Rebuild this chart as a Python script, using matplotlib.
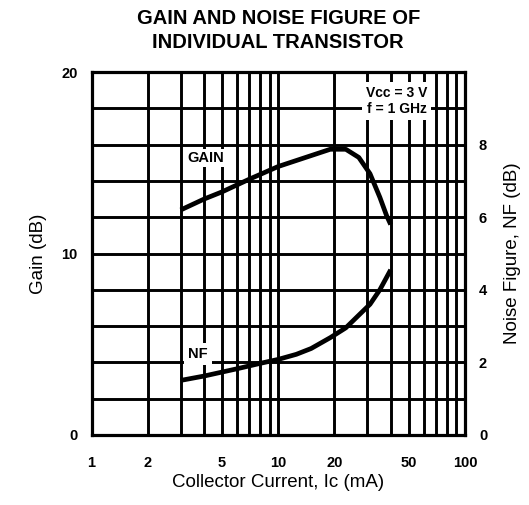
import matplotlib
matplotlib.use("Agg")
import matplotlib.pyplot as plt

plt.rcParams['font.family'] = ['Liberation Sans', 'DejaVu Sans']

# Data
gain_current = [3, 4, 5, 7, 10, 15, 19, 23, 27, 31, 35, 38, 40]
gain_db = [12.4, 13.0, 13.4, 14.1, 14.8, 15.4, 15.75, 15.75, 15.3, 14.4, 13.1, 12.1, 11.6]

nf_current = [3, 4, 6, 8, 10, 12.5, 15, 19, 23, 27, 31, 35, 40]
nf_db = [1.5, 1.62, 1.82, 1.97, 2.08, 2.22, 2.38, 2.68, 2.95, 3.3, 3.6, 4.0, 4.55]

x_ticks = [1, 2, 5, 10, 20, 50, 100]
x_minor = [3, 4, 6, 7, 8, 9, 30, 40, 60, 70, 80, 90]
gain_ticks = [0, 10, 20]
gain_grid = [2, 4, 6, 8, 12, 14, 16, 18]
nf_ticks = [0, 2, 4, 6, 8]

fig = plt.figure(figsize=(5.29, 5.05), dpi=100)
ax = fig.add_axes([0.173, 0.139, 0.706, 0.718])

ax.set_xscale('log')
ax.set_xlim(1, 100)
ax.set_ylim(0, 20)
ax.set_xticks(x_ticks)
ax.set_xticklabels([str(t) for t in x_ticks], fontweight='bold', fontsize=10.5)
ax.set_xticks(x_minor, minor=True)
ax.set_yticks(gain_ticks)
ax.set_yticklabels([str(t) for t in gain_ticks], fontweight='bold', fontsize=10.5)
ax.set_yticks(gain_grid, minor=True)
ax.tick_params(which='both', length=0)
ax.tick_params(axis='x', pad=15)
ax.tick_params(axis='y', pad=10)
ax.grid(True, which='both', color='black', linewidth=2.1)
for s in ax.spines.values():
    s.set_linewidth(2.3)

ax.plot(gain_current, gain_db, color='black', linewidth=3.4, solid_capstyle='butt', zorder=5)

ax2 = ax.twinx()
ax2.set_ylim(0, 10)
ax2.set_yticks(nf_ticks)
ax2.set_yticklabels([str(t) for t in nf_ticks], fontweight='bold', fontsize=10.5)
ax2.tick_params(length=0, pad=10)
ax2.plot(nf_current, nf_db, color='black', linewidth=3.4, solid_capstyle='butt', zorder=5)

ax.text(4.09, 15.26, 'GAIN', fontsize=10.5, fontweight='bold', ha='center', va='center',
        bbox=dict(facecolor='white', edgecolor='none', pad=1.5), zorder=6)
ax2.text(3.72, 2.23, 'NF', fontsize=10.5, fontweight='bold', ha='center', va='center',
         bbox=dict(facecolor='white', edgecolor='none', pad=3), zorder=6)
ax.text(43, 18.4, 'Vcc = 3 V\nf = 1 GHz', fontsize=10, fontweight='bold', ha='center', va='center',
        linespacing=1.15, bbox=dict(facecolor='white', edgecolor='none', pad=3), zorder=6)

ax.set_xlabel('Collector Current, Ic (mA)', fontsize=13.5, labelpad=3)
ax.set_ylabel('Gain (dB)', fontsize=13.5, labelpad=10)
ax2.set_ylabel('Noise Figure, NF (dB)', fontsize=13.5, labelpad=12)

fig.suptitle('GAIN AND NOISE FIGURE OF\nINDIVIDUAL TRANSISTOR', x=0.526, y=0.982,
             fontsize=14.5, fontweight='bold', linespacing=1.35)

fig.savefig('out.png', dpi=100)
